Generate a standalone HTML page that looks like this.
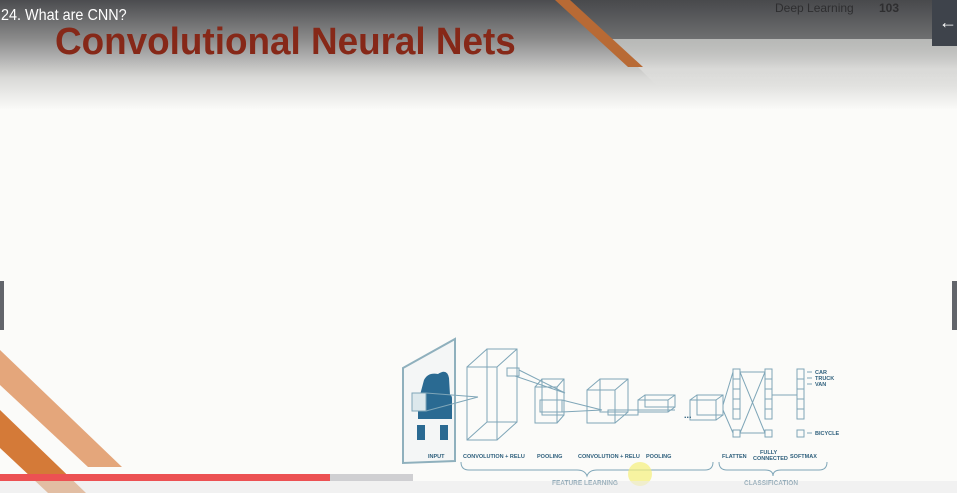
<!DOCTYPE html>
<html><head><meta charset="utf-8"><style>
body{margin:0;width:957px;height:493px;overflow:hidden;background:#fbfbf9;font-family:"Liberation Sans",sans-serif;position:relative}
.abs{position:absolute}
</style></head><body>
<div class="abs" style="left:0;top:0;width:957px;height:110px;background:linear-gradient(#4b4c4f 0%,#8a8a8a 35%,#d8d8d6 70%,#fbfbf9 100%)"></div>
<div class="abs" style="left:0;top:0;width:957px;height:39px;background:linear-gradient(#48494c,#6e6f70);clip-path:polygon(567px 0,957px 0,957px 39px,610px 39px)"></div>
<div class="abs" style="left:0;top:39px;width:957px;height:50px;background:linear-gradient(rgba(184,185,183,1),rgba(230,230,228,0.6) 60%,rgba(251,251,249,0));clip-path:polygon(610px 0,957px 0,957px 50px,660px 50px)"></div>
<svg class="abs" style="left:0;top:0" width="957" height="80"><polygon points="555,0 570,0 643,67 628,67" fill="#b86a35"/></svg>
<div class="abs" style="left:1px;top:7px;color:#fff;font-size:16px;transform:scaleX(0.9);transform-origin:left">24. What are CNN?</div>
<div class="abs" style="left:55px;top:21px;color:#862818;font-size:38px;font-weight:bold;white-space:nowrap;transform:scaleX(0.97);transform-origin:left">Convolutional Neural Nets</div>
<div class="abs" style="left:775px;top:1px;color:#2e2e30;font-size:12px">Deep Learning</div>
<div class="abs" style="left:879px;top:1px;color:#2e2e30;font-size:12px;font-weight:bold">103</div>
<div class="abs" style="left:932px;top:0;width:25px;height:46px;background:#3e434b;color:#fff;font-size:18px;font-weight:bold;line-height:44px;text-align:right">&#8592;</div>
<div class="abs" style="left:0;top:281px;width:4px;height:49px;background:#62656b"></div>
<div class="abs" style="left:952px;top:281px;width:5px;height:49px;background:#62656b"></div>
<svg class="abs" style="left:0;top:340px" width="130" height="153">
<polygon points="0,10 122,127 88,127 0,45" fill="#e4a67b"/>
<polygon points="0,70 86,153 48,153 0,108" fill="#d47a38"/>
</svg>
<svg class="abs" style="left:0;top:0" width="957" height="493" font-family="Liberation Sans,sans-serif" font-weight="bold">
<g fill="none" stroke="#7fa6b8" stroke-width="1">
<polygon points="403,368 455,339 455,461 403,463" fill="#f4f6f6" stroke="#8fb0bd" stroke-width="2"/>
<path d="M420,395 l4,-15 q4,-8 14,-6 q9,-6 11,4 l1,17 q2,0 2,4 v20 h-34 v-20 q0,-4 2,-4 z" fill="#2a6a92" stroke="none"/>
<rect x="417" y="425" width="8" height="15" fill="#2a6a92" stroke="none"/><rect x="440" y="425" width="8" height="15" fill="#2a6a92" stroke="none"/>
<rect x="412" y="393" width="14" height="18" fill="#dce8ec"/>
<path d="M426,393 L478,397 M426,411 L478,397"/>
<rect x="467" y="367" width="30" height="73"/><rect x="487" y="349" width="30" height="73"/>
<path d="M467,367 L487,349 M497,367 L517,349 M497,440 L517,422 M467,440 L487,422"/>
<rect x="507" y="368" width="12" height="8"/><path d="M519,370 L565,393 M515,376 L565,393"/>
<rect x="535" y="387" width="22" height="36"/><rect x="542" y="379" width="22" height="36"/>
<path d="M535,387 L542,379 M557,387 L564,379 M557,423 L564,415"/>
<rect x="540" y="400" width="22" height="12"/><path d="M562,400 L602,410 M562,412 L602,410"/>
<rect x="587" y="390" width="28" height="33"/><rect x="600" y="379" width="28" height="33"/>
<path d="M587,390 L600,379 M615,390 L628,379 M615,423 L628,412"/>
<rect x="608" y="410" width="30" height="5"/><path d="M638,410 L675,410"/>
<rect x="638" y="400" width="30" height="12"/><rect x="645" y="395" width="30" height="12"/>
<path d="M638,400 L645,395 M668,400 L675,395 M668,412 L675,407"/>
<rect x="690" y="400" width="26" height="20"/><rect x="697" y="395" width="26" height="20"/>
<path d="M690,400 L697,395 M716,400 L723,395 M716,420 L723,415 M723,405 L733,372 M723,410 L733,433"/>
<rect x="733" y="369" width="7" height="50"/><rect x="733" y="430" width="7" height="7"/>
<rect x="765" y="369" width="7" height="50"/><rect x="765" y="430" width="7" height="7"/>
<rect x="797" y="369" width="7" height="50"/><rect x="797" y="430" width="7" height="7"/>
<path d="M740,372 L765,433 M740,433 L765,372 M740,372 L765,372 M740,433 L765,433 M772,395 L797,395"/>
<path d="M733,379h7M733,389h7M733,399h7M733,409h7M765,379h7M765,389h7M765,399h7M765,409h7M797,379h7M797,389h7M797,399h7M797,409h7"/>
<path d="M807,372h5M807,378h5M807,384h5M807,433h5"/>
<path d="M461,462 q0,8 8,8 h108 q8,0 10,6 q2,-6 10,-6 h108 q8,0 8,-8"/>
<path d="M719,462 q0,8 8,8 h38 q8,0 8,6 q0,-6 8,-6 h38 q8,0 8,-8"/>
</g>
<g fill="#2e5f7c" font-size="5.5">
<text x="684" y="418" font-size="9">...</text>
<text x="815" y="374">CAR</text><text x="815" y="380">TRUCK</text><text x="815" y="386">VAN</text><text x="815" y="435">BICYCLE</text>
<text x="428" y="458">INPUT</text><text x="463" y="458">CONVOLUTION + RELU</text><text x="537" y="458">POOLING</text>
<text x="578" y="458">CONVOLUTION + RELU</text><text x="646" y="458">POOLING</text>
<text x="722" y="458">FLATTEN</text><text x="760" y="454">FULLY</text><text x="753" y="460">CONNECTED</text><text x="790" y="458">SOFTMAX</text>
<text x="552" y="485" font-size="6.5">FEATURE LEARNING</text><text x="744" y="485" font-size="6.5">CLASSIFICATION</text>
</g>
<circle cx="640" cy="474" r="12" fill="#f5f07a" opacity="0.7"/>
</svg>
<div class="abs" style="left:0;top:474px;width:413px;height:7px;background:#cfcfd2"></div>
<div class="abs" style="left:0;top:474px;width:330px;height:7px;background:#ec5153"></div>
<div class="abs" style="left:0;top:481px;width:957px;height:12px;background:rgba(235,235,235,0.6)"></div>
</body></html>
